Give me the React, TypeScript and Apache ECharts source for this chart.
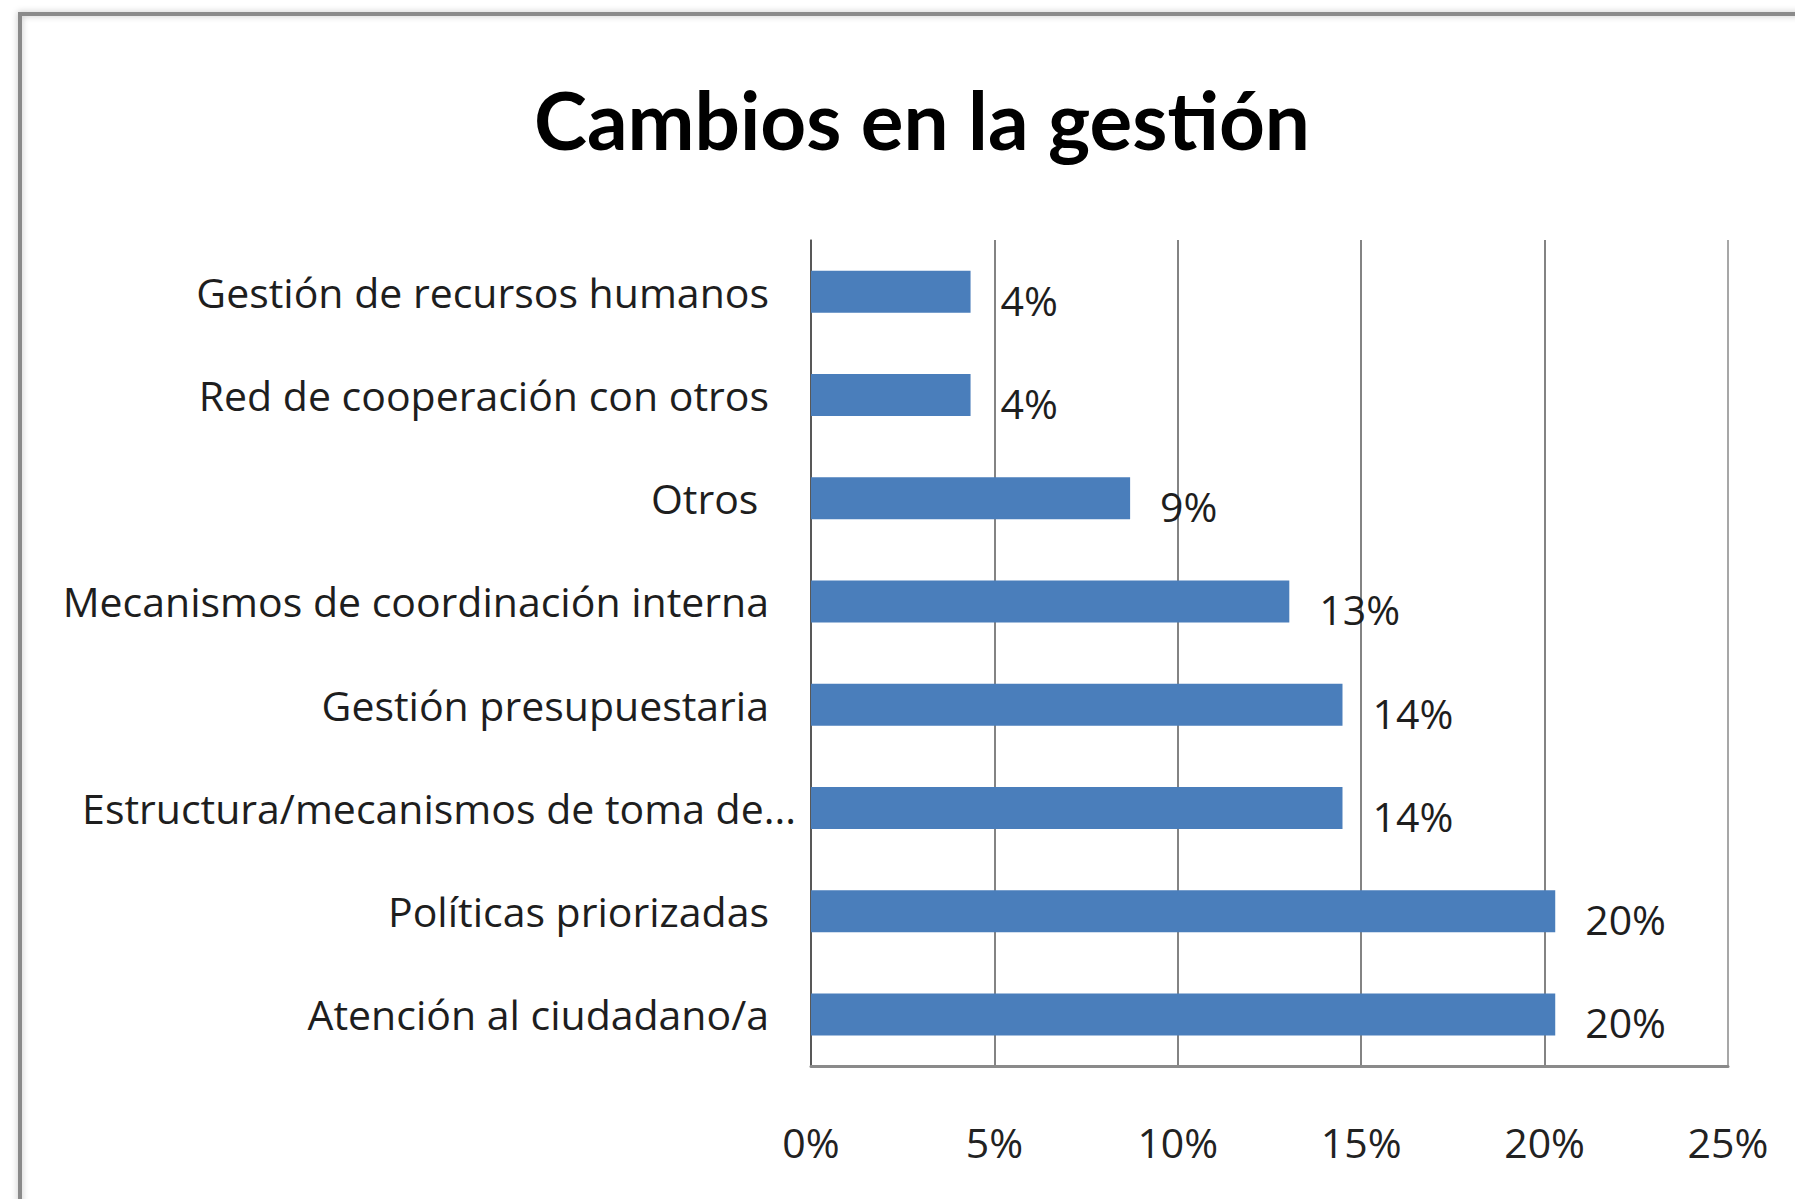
import React, { useEffect, useRef } from "react";
import * as echarts from "echarts";

const titleText = "Cambios en la gestión";
const categories = [
  "Gestión de recursos humanos",
  "Red de cooperación con otros",
  "Otros ",
  "Mecanismos de coordinación interna",
  "Gestión presupuestaria",
  "Estructura/mecanismos de toma de...",
  "Políticas priorizadas",
  "Atención al ciudadano/a",
];
const values = [4.35, 4.35, 8.7, 13.04, 14.49, 14.49, 20.29, 20.29];
const axisMin = 0;
const axisMax = 25;
const axisStep = 5;

const TITLE_FONT = "Lato";
const FONT = "Open Sans";
const FS = 41;

export default function App() {
  const ref = useRef<HTMLDivElement>(null);
  useEffect(() => {
    if (!ref.current) return;
    const chart = echarts.init(ref.current, undefined, { renderer: "svg" });
    chart.setOption({
      animation: false,
      backgroundColor: "#ffffff",
      textStyle: { fontFamily: FONT },
      title: {
        text: titleText,
        left: 917,
        top: 74,
        textAlign: "center",
        textStyle: { fontFamily: TITLE_FONT, fontSize: 80, fontWeight: "bold", color: "#000000" },
      },
      graphic: [
        {
          type: "rect",
          z: -10,
          shape: { x: 20, y: 14, width: 1820, height: 1240 },
          style: {
            fill: "transparent",
            stroke: "#8a8a8a",
            lineWidth: 4,
            shadowBlur: 6,
            shadowColor: "rgba(0,0,0,0.25)",
          },
        },
      ],
      grid: {
        left: 811,
        right: 67,
        top: 240,
        bottom: 133,
        containLabel: false,
        outerBoundsMode: "none",
      },
      xAxis: {
        type: "value",
        min: axisMin,
        max: axisMax,
        interval: axisStep,
        axisLine: { show: true, lineStyle: { color: "#8a8a8a", width: 3 } },
        axisTick: { show: false },
        axisLabel: {
          formatter: "{value}%",
          fontFamily: FONT,
          fontSize: FS,
          color: "#222222",
          margin: 55,
        },
        splitLine: {
          show: true,
          lineStyle: {
            color: ["#5a5a5a", "#5a5a5a", "#5a5a5a", "#5a5a5a", "#5a5a5a", "#8a8a8a"],
            width: 1.5,
          },
        },
      },
      yAxis: {
        type: "category",
        data: categories,
        inverse: true,
        axisLine: { show: true, lineStyle: { color: "#4a4a4a", width: 1.5 } },
        axisTick: { show: false },
        splitLine: { show: false },
        axisLabel: {
          fontFamily: FONT,
          fontSize: FS,
          color: "#1e1e1e",
          margin: 15,
          formatter: (v: string) =>
            v.indexOf("Estructura") === 0 ? "{e|" + v + "}" : "{n|" + v + "}",
          rich: {
            n: { fontFamily: FONT, fontSize: FS, color: "#1e1e1e", padding: [0, 27, 0, 0] },
            e: { fontFamily: FONT, fontSize: FS, color: "#1e1e1e" },
          },
        },
      },
      series: [
        {
          type: "bar",
          data: values,
          barWidth: 42,
          itemStyle: { color: "#4a7ebb" },
          label: {
            show: true,
            position: "right",
            distance: 30,
            offset: [0, 8],
            fontFamily: FONT,
            fontSize: FS,
            color: "#1e1e1e",
            formatter: (p: any) => Math.round(p.value) + "%",
          },
        },
      ],
    });
    return () => chart.dispose();
  }, []);
  return (
    <div
      ref={ref}
      style={{ position: "fixed", left: 0, top: 0, width: 1795, height: 1199 }}
    />
  );
}
